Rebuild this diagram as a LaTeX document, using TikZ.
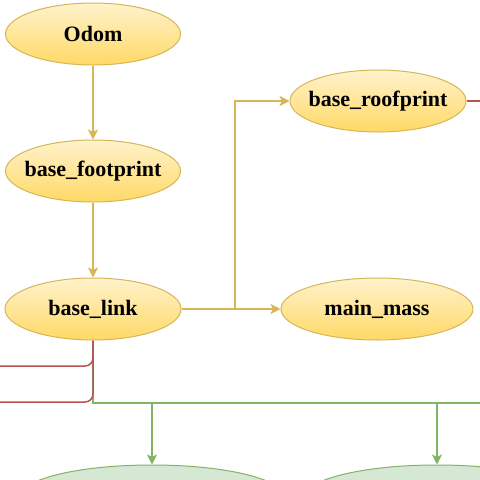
\documentclass[tikz,border=0pt]{standalone}
\usepackage{fontspec}
\setmainfont{Liberation Serif}
\usetikzlibrary{shapes.geometric,arrows.meta,calc}
\definecolor{ystroke}{HTML}{D6B656}
\definecolor{ytop}{HTML}{FFF2CC}
\definecolor{ybot}{HTML}{FFD966}
\definecolor{gstroke}{HTML}{82B366}
\definecolor{gfill}{HTML}{D5E8D4}
\definecolor{rstroke}{HTML}{B85450}
\newcommand{\zb}[1]{\makebox[0pt]{#1}}
\tikzset{
  yellownode/.style={ellipse, draw=ystroke, line width=1pt, top color=ytop, bottom color=ybot,
    inner sep=0pt, minimum height=62pt, font=\fontsize{22}{26}\selectfont\bfseries},
  greennode/.style={ellipse, draw=gstroke, line width=1pt, fill=gfill,
    inner sep=0pt, minimum height=62pt, minimum width=262pt},
  yline/.style={draw=ystroke, line width=1.5pt, -{Stealth[length=10pt,width=10pt,inset=2.5pt]}},
  gline/.style={draw=gstroke, line width=1.5pt},
  garrow/.style={gline, -{Stealth[length=10pt,width=10pt,inset=2.5pt]}},
  rline/.style={draw=rstroke, line width=1.5pt, rounded corners=8pt},
}
\begin{document}
\begin{tikzpicture}[x=1pt,y=-1pt]
\useasboundingbox (0,0) rectangle (480,480);
\clip (0,0) rectangle (480,480);
\fill[white] (0,0) rectangle (480,480);
% nodes
\node[yellownode, minimum width=175pt] (odom) at (93,34) {\zb{Odom}};
\node[yellownode, minimum width=175pt] (fp) at (93,171) {\zb{base\_footprint}};
\node[yellownode, minimum width=176pt] (bl) at (93,309) {\zb{base\_link}};
\node[yellownode, minimum width=176pt] (roof) at (378,101) {\zb{base\_roofprint}};
\node[yellownode, minimum width=192pt] (mm) at (377,309) {\zb{main\_mass}};
\node[greennode] (g1) at (152,496) {};
\node[greennode] (g2) at (437,496) {};
% free ends
\coordinate (r1) at (-5,366);
\coordinate (r2) at (-5,402);
\coordinate (r3) at (485,101);
\coordinate (gE) at (485,403);
\coordinate (gj) at (93,403);
\coordinate (br) at (235,309);
% yellow connectors
\draw[yline] (odom) -- (fp);
\draw[yline] (fp) -- (bl);
\draw[yline] (bl) -- (mm);
\draw[yline] (bl.east) -- (br) |- (roof.west);
% green connectors
\draw[gline] (bl.south) -- (gj) -- (gE);
\draw[garrow] (bl.south) -- (gj) -| (g1.north);
\draw[garrow] (bl.south) -- (gj) -| (g2.north);
% red connectors
\draw[rline] (bl.south) |- (r1);
\draw[rline] (bl.south) |- (r2);
\draw[rline] (roof.east) -- (r3);
\end{tikzpicture}
\end{document}
